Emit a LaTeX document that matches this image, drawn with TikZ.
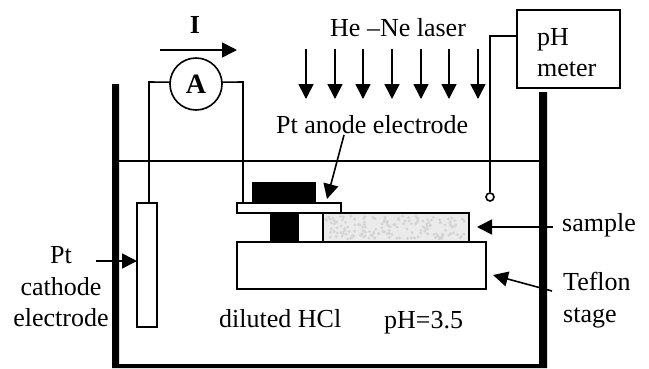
\documentclass[tikz,border=0pt]{standalone}
\usepackage{fontspec}
\setmainfont{Liberation Serif}
\usetikzlibrary{arrows.meta}
\tikzset{
 wire/.style={black, line width=1.6},
 part/.style={draw=black, line width=1.6, fill=white, inner sep=0, outer sep=0},
 pointer/.style={black, line width=1.6, -{Triangle[length=15,width=15]}},
 lbl/.style={inner sep=0, font=\fontsize{26}{26}\selectfont, anchor=base west},
}
\begin{document}
\begin{tikzpicture}[x=1pt,y=-1pt]
\useasboundingbox (0,0) rectangle (649,368);
\fill[white] (0,0) rectangle (649,368);
% tank
\fill[black] (112,84) rectangle (119,368) (539,92) rectangle (547,368) (112,364) rectangle (547,368);
\coordinate (surfL) at (119,161);
\coordinate (surfR) at (539,161);
\draw[wire] (surfL)--(surfR);
% stage and sample
\node[part, minimum width=249, minimum height=47, anchor=north west] (stage) at (237,242) {};
\node[part, fill=black!8, minimum width=146, minimum height=29, anchor=south west] (sample) at (323,242) {};
\pgfmathsetseed{7}
\foreach \i in {1,...,170} {
 \pgfmathsetmacro\sx{326+140*rnd}
 \pgfmathsetmacro\sy{216+23*rnd}
 \fill[black!17] (\sx,\sy) circle (1.6);
}
\draw[wire] (sample.south west) rectangle (sample.north east);
\node[part, fill=black, minimum width=27, minimum height=29, anchor=south west] (spacer) at (271,242) {};
\node[part, minimum width=104, minimum height=10, anchor=south west] (anode) at (237,213) {};
\node[part, fill=black, minimum width=62, minimum height=20, anchor=south west] (block) at (253,203) {};
\node[part, minimum width=20, minimum height=124, anchor=north west] (cathode) at (137,203) {};
\coordinate (cathodeTop) at (149,203);
\coordinate (anodeTop) at (243,203);
% ammeter
\node[part, circle, minimum size=52] (amp) at (196,84) {\fontsize{28}{28}\selectfont\bfseries A};
\draw[wire] (amp.176)--(149,82)--(cathodeTop);
\draw[wire] (amp.4)--(243,82)--(anodeTop);
% pH meter
\node[draw=black, line width=1.6, minimum width=103, minimum height=78, inner sep=0, anchor=north west] (meter) at (516,9) {};
\node[lbl] (pHLbl) at (537,45) {pH};
\node[lbl] (meterLbl) at (537,76) {meter};
\node[draw=black, circle, line width=1.6, fill=white, minimum size=8, inner sep=0] (probe) at (490,197) {};
\coordinate (meterPort) at (516,36);
\draw[wire] (meterPort)--(490,36)--(probe.north);
% laser
\foreach \x in {306,335,363,392,421,449,478} {
 \draw[pointer] (\x,49)--(\x,99);
}
\draw[pointer] (160,50)--(237,50);
\node[lbl, font=\fontsize{26}{26}\selectfont\bfseries, anchor=base] (current) at (195,33) {I};
\node[lbl] (laser) at (330,36) {He –Ne laser};
\node[lbl] (anodeLbl) at (276,133) {Pt anode electrode};
\draw[pointer] (344,135)--(327,199);
\node[lbl] (sampleLbl) at (562,231) {sample};
\draw[pointer] (553,227)--(477,227);
\node[lbl] (teflonLbl) at (563,290) {Teflon};
\node[lbl] (stageLbl) at (563,322) {stage};
\draw[pointer] (552,291)--(493,275);
\node[lbl, anchor=base] (ptLbl) at (61,263) {Pt};
\node[lbl, anchor=base] (cathodeLbl) at (61,295) {cathode};
\node[lbl, anchor=base] (electrodeLbl) at (61,326) {electrode};
\draw[pointer] (96,261)--(137,261);
\node[lbl] (hcl) at (219,327) {diluted HCl};
\node[lbl] (ph) at (384,328) {pH=3.5};
\end{tikzpicture}
\end{document}
